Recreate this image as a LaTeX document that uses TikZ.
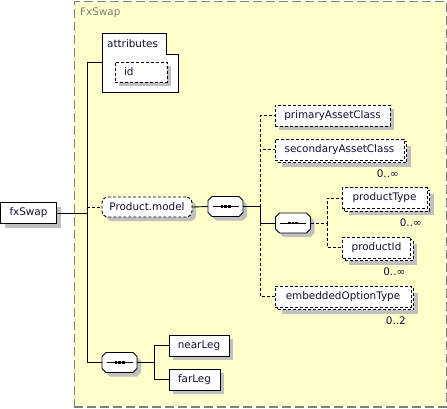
\documentclass[tikz,border=0pt]{standalone}
\usepackage{fontspec}
\setmainfont{DejaVu Sans}

\definecolor{schemafill}{HTML}{FFFFCC}
\definecolor{framegray}{HTML}{808080}
\definecolor{shadegray}{HTML}{C0C0C0}
\definecolor{inkblue}{HTML}{10103A}
\newcommand\elfont{\fontsize{10.4}{12.5}\selectfont}

\tikzset{
  box/.style={rectangle, draw=black, fill=white, line width=0.9pt, minimum height=21pt,
    inner sep=0pt, text=inkblue, font=\elfont},
  optional/.style={dash pattern=on 3pt off 2pt},
  castshadow/.style={preaction={draw=none, solid, fill=shadegray,
    transform canvas={shift={(#1,-#1)}}}},
  single/.style={box, castshadow=4pt},
  many/.style={box, castshadow=6.5pt, preaction={draw=black, fill=white, optional,
    transform canvas={shift={(2.7pt,-2.7pt)}}}},
  seq/.style={rectangle, minimum width=35pt, minimum height=20pt, inner sep=0pt},
  octagon/.style={insert path={+(-17.5,-6) -- +(-13.5,-10) -- +(13.5,-10) -- +(17.5,-6)
    -- +(17.5,6) -- +(13.5,10) -- +(-13.5,10) -- +(-17.5,6) -- cycle}},
  mult/.style={inner sep=0pt, text=inkblue, font=\elfont, anchor=base east},
  schema/.style={rectangle, draw=framegray, line width=1.6pt, dash pattern=on 9pt off 4pt,
    fill=schemafill, inner sep=0pt},
  link/.style={line width=0.9pt}
}

\begin{document}
\begin{tikzpicture}[x=1pt, y=-1pt]
  \useasboundingbox (0,0) rectangle (447,408);

  % Frame
  \node (frame) [schema, minimum width=372pt, minimum height=405.5pt, anchor=north west] at (73.5,0.8) {};
  \node (title) [text=framegray, font=\elfont, inner sep=0pt, anchor=west] at (80,13) {FxSwap};

  % Attributes
  \node (attrs) [minimum width=76pt, minimum height=59pt, inner sep=0pt, anchor=north west] at (102,33) {};
  \draw [link, fill=white] (attrs.north west) -| ([xshift=-12pt, yshift=-21pt]attrs.north east)
    -| (attrs.south east) -| (attrs.south west) -- cycle;
  \node (attrlabel) [text=inkblue, font=\elfont, inner sep=0pt, anchor=west] at (107,44) {attributes};
  \node (id) [single, optional, minimum height=20pt, text width=34pt, align=left, inner xsep=9pt] at (141,72) {id};

  % Elements
  \node (fxswap) [single, minimum width=56pt] at (28.5,213) {fxSwap};
  \node (model) [single, optional, rounded corners=6pt, minimum width=90pt, minimum height=20pt] at (147,207) {Product.model};
  \node (seq1) [seq] at (225.5,206.5) {};
  \node (prim) [single, optional, minimum width=115pt] at (332.5,115.5) {primaryAssetClass};
  \node (sec) [many, optional, minimum width=129pt] at (339.5,149.5) {secondaryAssetClass};
  \node (seq2) [seq] at (293,223) {};
  \node (ptype) [many, optional, minimum width=85pt] at (384.5,198) {productType};
  \node (pid) [many, optional, minimum width=68pt] at (376.5,247.5) {productId};
  \node (emb) [many, optional, minimum width=136pt] at (343,296.5) {embeddedOptionType};
  \node (seq3) [seq] at (119.5,362.5) {};
  \node (near) [single, minimum width=60pt] at (199,345.5) {nearLeg};
  \node (far) [single, minimum width=51pt] at (194.5,379.5) {farLeg};

  % Compositors
  \foreach \s in {seq1,seq2,seq3} {
    \fill [shadegray] (\s.center) ++(4,4) [octagon];
    \draw [link, fill=white] (\s.center) [octagon];
    \draw [link] ([xshift=-13pt]\s.center) -- ([xshift=13pt]\s.center);
    \foreach \d in {-3.6,0,3.6}
      \fill ([xshift=\d pt]\s.center) +(-1.4,-1.4) rectangle +(1.4,1.4);
  }

  % Occurrences
  \node (msec) [mult] at ([xshift=-5.5pt, yshift=-17.5pt]sec.south east) {0..∞};
  \node (mptype) [mult] at ([xshift=-5.5pt, yshift=-17.5pt]ptype.south east) {0..∞};
  \node (mpid) [mult] at ([xshift=-5.5pt, yshift=-17.5pt]pid.south east) {0..∞};
  \node (memb) [mult] at ([xshift=-5.5pt, yshift=-17.5pt]emb.south east) {0..2};

  % Connectors
  \coordinate (hub) at (87,213);
  \coordinate (fork1) at (260,206.5);
  \coordinate (fork2) at (327,223);
  \coordinate (fork3) at (154,362.5);
  \draw [link] (fxswap.east) -- (hub);
  \draw [link] (hub) |- (attrs.west);
  \draw [link] (hub) |- (seq3.west);
  \draw [link, optional] (hub |- model.west) -- (model.west);
  \draw [link] (model.east) -- (seq1.west);
  \draw [link] (seq1.east) -- (fork1) |- (seq2.west);
  \draw [link, optional] (fork1) |- (prim.west);
  \draw [link, optional] (fork1) |- (sec.west);
  \draw [link, optional] (fork1 |- seq2.west) |- (emb.west);
  \draw [link, optional] (seq2.east) -- (fork2) |- (ptype.west);
  \draw [link, optional] (fork2) |- (pid.west);
  \draw [link] (seq3.east) -- (fork3) |- (near.west);
  \draw [link] (fork3) |- (far.west);
\end{tikzpicture}
\end{document}
